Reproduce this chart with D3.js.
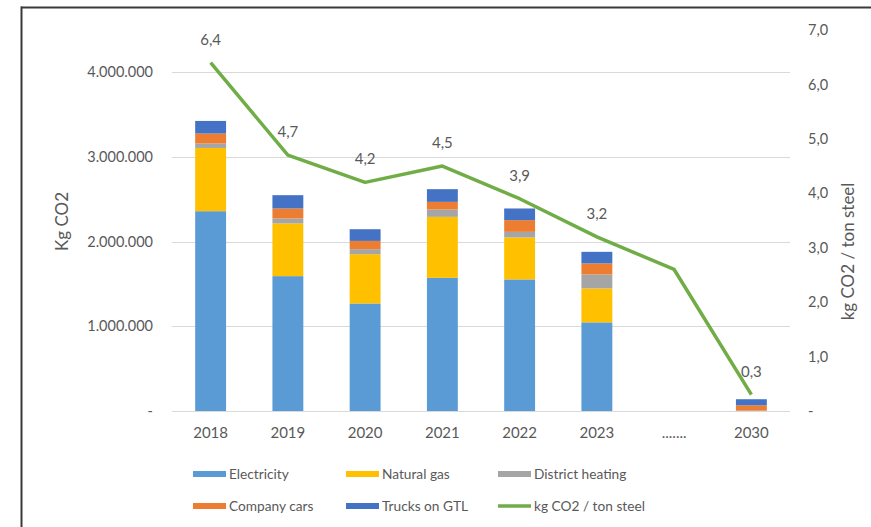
<!DOCTYPE html>
<html>
<head>
<meta charset="utf-8">
<script src="https://cdn.jsdelivr.net/npm/d3@7"></script>
<style>
  body { margin: 0; background: #fff; }
  svg { display: block; }
  text { font-family: Lato, "Open Sans", sans-serif; fill: #595959; }
</style>
</head>
<body>
<svg id="chart" width="871" height="527"></svg>
<script>
// Categories along the x axis
const years = ["2018", "2019", "2020", "2021", "2022", "2023", ".......", "2030"];

// Emissions per source (kg CO2)
const electricity     = [2360000, 1593000, 1270000, 1573000, 1554000, 1047000, 0, 0];
const naturalGas      = [747000, 622000, 582000, 720000, 496000, 401000, 0, 0];
const districtHeating = [52000, 59000, 59000, 87000, 66000, 165000, 0, 5000];
const companyCars     = [118000, 118000, 98000, 90000, 138000, 130000, 0, 62000];
const trucksGTL       = [149000, 157000, 138000, 150000, 138000, 137000, 0, 72000];

// Intensity (kg CO2 / ton steel), labelled where stated
const intensity       = [6.4, 4.7, 4.2, 4.5, 3.9, 3.2, 2.6, 0.3];
const intensityLabels = ["6,4", "4,7", "4,2", "4,5", "3,9", "3,2", null, "0,3"];

// Axis ticks
const leftTicks  = [0, 1000000, 2000000, 3000000, 4000000];
const leftTickLabels = ["-", "1.000.000", "2.000.000", "3.000.000", "4.000.000"];
const rightTicks = [0, 1, 2, 3, 4, 5, 6, 7];
const rightTickLabels = ["-", "1,0", "2,0", "3,0", "4,0", "5,0", "6,0", "7,0"];

const seriesNames  = ["Electricity", "Natural gas", "District heating", "Company cars", "Trucks on GTL"];
const seriesColors = ["#5B9BD5", "#FFC000", "#A5A5A5", "#ED7D31", "#4472C4"];
const lineName  = "kg CO2 / ton steel";
const lineColor = "#70AD47";

const svg = d3.select("#chart");

// frame lines (top and left)
svg.append("line").attr("x1", 21).attr("x2", 871).attr("y1", 7.5).attr("y2", 7.5)
  .attr("stroke", "#3a3a3a").attr("stroke-width", 2);
svg.append("line").attr("x1", 21.5).attr("x2", 21.5).attr("y1", 6.5).attr("y2", 527)
  .attr("stroke", "#3a3a3a").attr("stroke-width", 2);

const plot = { left: 172, right: 790, top: 30, bottom: 411 };

const x = d3.scaleBand().domain(years).range([plot.left, plot.right]).paddingInner(0.6).paddingOuter(0.3);
const yL = d3.scaleLinear().domain([0, 4500000]).range([plot.bottom, plot.top]);
const yR = d3.scaleLinear().domain([0, 7]).range([plot.bottom, plot.top]);

// gridlines
svg.append("g").selectAll("line").data(leftTicks).join("line")
  .attr("x1", plot.left).attr("x2", plot.right)
  .attr("y1", d => Math.round(yL(d)) + 0.5).attr("y2", d => Math.round(yL(d)) + 0.5)
  .attr("stroke", "#d9d9d9").attr("stroke-width", 1);

const styleTicks = (g, size) => g.selectAll("text").attr("font-size", size)
  .style("fill", "#595959").attr("font-family", "Lato, sans-serif");

// left axis labels
const leftAxis = d3.axisLeft(yL).tickValues(leftTicks)
  .tickFormat((d, i) => leftTickLabels[i]).tickSize(0).tickPadding(19);
const gL = svg.append("g").attr("transform", `translate(${plot.left},0)`).call(leftAxis);
gL.select(".domain").remove();
styleTicks(gL, 14.5);

// right axis labels
const rightAxis = d3.axisRight(yR).tickValues(rightTicks)
  .tickFormat((d, i) => rightTickLabels[i]).tickSize(0).tickPadding(18);
const gR = svg.append("g").attr("transform", `translate(${plot.right},0)`).call(rightAxis);
gR.select(".domain").remove();
styleTicks(gR, 14.5);

// category axis labels
const xAxis = d3.axisBottom(x).tickSize(0).tickPadding(16);
const gX = svg.append("g").attr("transform", `translate(0,${plot.bottom})`).call(xAxis);
gX.select(".domain").remove();
styleTicks(gX, 15);

// axis titles
svg.append("text").attr("transform", "translate(68,221.5) rotate(-90)")
  .attr("text-anchor", "middle").attr("font-size", 17).text("Kg CO2");
svg.append("text").attr("transform", "translate(854,251.5) rotate(-90)")
  .attr("text-anchor", "middle").attr("font-size", 17).text("kg CO2 / ton steel");

// stacked bars
const rows = years.map((y, i) => ({
  year: y,
  s0: electricity[i], s1: naturalGas[i], s2: districtHeating[i], s3: companyCars[i], s4: trucksGTL[i]
}));
const keys = ["s0", "s1", "s2", "s3", "s4"];
const stacked = d3.stack().keys(keys)(rows);

svg.append("g").selectAll("g").data(stacked).join("g")
  .attr("fill", (d, i) => seriesColors[i])
  .selectAll("rect").data(d => d).join("rect")
  .attr("x", d => x(d.data.year))
  .attr("width", x.bandwidth())
  .attr("y", d => yL(d[1]))
  .attr("height", d => Math.max(0, yL(d[0]) - yL(d[1])));

// intensity line
const line = d3.line().x((d, i) => x(years[i]) + x.bandwidth() / 2).y(d => yR(d));
svg.append("path").datum(intensity).attr("d", line)
  .attr("fill", "none").attr("stroke", lineColor).attr("stroke-width", 3.5)
  .attr("stroke-linejoin", "round");

// value labels
svg.append("g").selectAll("text").data(intensity.map((v, i) => ({ v, i })).filter(d => intensityLabels[d.i]))
  .join("text")
  .attr("x", d => x(years[d.i]) + x.bandwidth() / 2)
  .attr("y", d => yR(d.v) - 18)
  .attr("text-anchor", "middle").attr("font-size", 15)
  .text(d => intensityLabels[d.i]);

// legend
const legendItems = seriesNames.map((n, i) => ({ name: n, color: seriesColors[i], type: "bar" }))
  .concat([{ name: lineName, color: lineColor, type: "line" }]);
const colX = [193, 346, 498];
const rowY = [474, 506];
const lg = svg.append("g").selectAll("g").data(legendItems).join("g")
  .attr("transform", (d, i) => `translate(${colX[i % 3]},${rowY[Math.floor(i / 3)]})`);
lg.filter(d => d.type === "bar").append("rect")
  .attr("x", 0).attr("y", -3).attr("width", 33).attr("height", 6).attr("fill", d => d.color);
lg.filter(d => d.type === "line").append("line")
  .attr("x1", 0).attr("x2", 33).attr("y1", 0).attr("y2", 0)
  .attr("stroke", d => d.color).attr("stroke-width", 3.5);
lg.append("text").attr("x", 36).attr("y", 0).attr("dy", "0.35em").attr("font-size", 13.7)
  .text(d => d.name);
</script>
</body>
</html>
